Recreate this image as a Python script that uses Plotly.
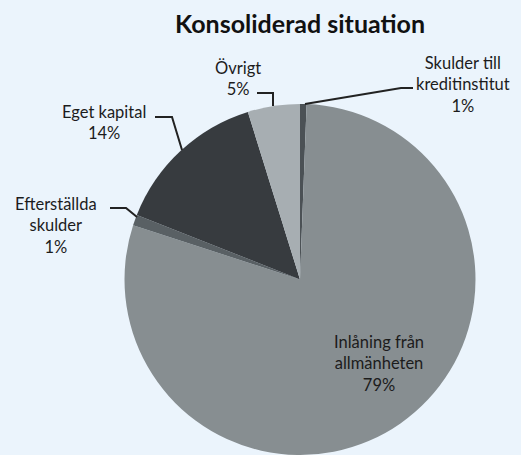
import plotly.graph_objects as go

W, H = 521, 455

# ---- data ----
categories = ["Skulder till kreditinstitut", "Inlåning från allmänheten",
              "Efterställda skulder", "Eget kapital", "Övrigt"]
display_labels = ["Skulder till<br>kreditinstitut", "Inlåning från<br>allmänheten",
                  "Efterställda<br>skulder", "Eget kapital", "Övrigt"]
shares = [0.6, 79.4, 1.0, 14.2, 4.8]
slice_colors = ["#4b5155", "#878e91", "#596064", "#373b3f", "#a7aeb2"]
title_text = "Konsoliderad situation"

BG = "#ebf4fc"
FONT = "Lato"
TXT = "#1c1c1c"


def px(x):
    return x / W


def py(y):
    return 1 - y / H


fig = go.Figure(go.Pie(
    labels=categories,
    values=shares,
    sort=False,
    direction="clockwise",
    rotation=0,
    marker=dict(colors=slice_colors, line=dict(width=0)),
    textinfo="none",
    hoverinfo="label+percent",
    domain=dict(x=[px(124), px(476)], y=[0, py(104)]),
    showlegend=False,
))

total = sum(shares)
pct = [f"{round(v / total * 100)}%" for v in shares]

# label anchor centres (pixels) and leader line paths
label_pos = [(463, 84), (379, 363), (56, 225), (104, 123), (238, 78)]
leaders = [
    [(413, 88), (401, 88), (305, 104)],
    None,
    [(110, 208), (126, 208), (137, 217)],
    [(155, 117), (172, 117), (182, 150)],
    [(257, 93), (273, 93), (273, 106)],
]

annotations = [dict(
    text=f"<b>{title_text}</b>", x=px(300), y=py(23), xref="paper", yref="paper",
    showarrow=False, xanchor="center", yanchor="middle",
    font=dict(family=FONT, size=25, color="#111111"))]

for lab, p, (cx, cy) in zip(display_labels, pct, label_pos):
    annotations.append(dict(
        text=f"{lab}<br>{p}", x=px(cx), y=py(cy), xref="paper", yref="paper",
        showarrow=False, xanchor="center", yanchor="middle", align="center",
        font=dict(family=FONT, size=16.5, color=TXT)))

shapes = []
for pts in leaders:
    if not pts:
        continue
    path = "M " + " L ".join(f"{px(x)},{py(y)}" for x, y in pts)
    shapes.append(dict(type="path", path=path, xref="paper", yref="paper",
                       line=dict(color="#222222", width=2)))

fig.update_layout(
    width=W, height=H,
    margin=dict(l=0, r=0, t=0, b=0),
    paper_bgcolor=BG, plot_bgcolor=BG,
    annotations=annotations, shapes=shapes,
)

fig.write_html(
    "out.html",
    config={"displayModeBar": False},
    post_script=f"document.body.style.margin='0';document.body.style.background='{BG}';"
                "document.body.style.overflow='hidden';",
)
